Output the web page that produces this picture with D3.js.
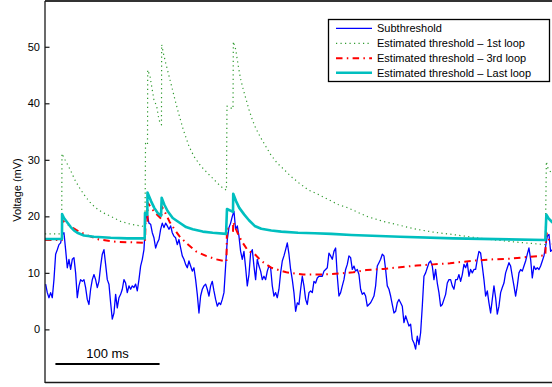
<!DOCTYPE html>
<html><head><meta charset="utf-8">
<script src="https://cdn.jsdelivr.net/npm/d3@7"></script>
<style>
body{margin:0;background:#fff}
svg{display:block;background:#fff}
text{font-family:"Liberation Sans",Arial,Helvetica,sans-serif;fill:#000}
</style>
</head><body>
<svg id="c" width="552" height="387"></svg>
<script>
// ---- data (time in ms, voltage in mV) ----
const sampleStart = 0.6;   // ms, time of first subthreshold sample
const sampleStep = 1.6;    // ms between samples
const subthreshold = [
  8.0, 6.5, 5.6, 6.5, 5.6, 8.8, 13.3, 14.1, 15.0, 15.3,
  16.8, 17.1, 14.1, 10.9, 12.4, 10.6, 12.4, 12.7, 10.0, 5.6,
  7.7, 8.8, 8.5, 8.8, 7.4, 5.3, 4.4, 7.1, 8.8, 9.7,
  8.8, 7.4, 8.5, 11.2, 13.3, 14.1, 11.5, 8.8, 8.0, 4.7,
  1.8, 2.9, 6.2, 3.8, 5.6, 6.2, 7.1, 8.8, 8.2, 6.5,
  7.7, 7.1, 7.7, 7.4, 8.0, 6.8, 8.8, 11.2, 12.4, 14.1,
  19.4, 20.3, 18.8, 18.6, 17.1, 16.2, 14.4, 15.3, 15.9, 17.7,
  18.8, 18.0, 18.8, 18.3, 17.7, 18.3, 17.1, 16.5, 16.2, 15.0,
  15.9, 14.4, 13.0, 12.4, 11.5, 10.9, 12.1, 11.2, 10.3, 10.9,
  8.8, 6.2, 2.9, 5.9, 7.1, 7.7, 8.0, 7.1, 5.9, 7.7,
  8.5, 6.8, 5.3, 4.1, 4.7, 4.4, 5.3, 6.5, 11.2, 15.9,
  18.0, 18.8, 20.0, 20.9, 17.7, 18.3, 16.5, 13.8, 12.4, 13.8,
  10.9,
  7.7, 9.7, 13.5, 14.1, 11.2, 8.8, 12.4, 11.2, 10.3, 8.8,
  9.4, 8.8, 10.3, 11.2, 10.9, 7.7, 5.9, 6.5, 5.6, 7.1,
  10.0, 12.1, 13.0, 14.1, 15.3, 13.3, 10.6, 8.8, 6.5, 3.2,
  4.7, 4.4, 7.1, 9.4, 7.7, 5.3, 4.4, 6.5, 6.8, 6.5,
  8.5, 8.2, 9.1, 9.4, 9.4, 9.4, 10.3, 10.6, 10.9, 13.5,
  13.0, 12.4, 13.8, 14.4, 9.4, 5.9, 6.5, 7.7, 8.8, 10.6,
  11.5, 13.0,
  12.7, 10.6, 11.2, 10.3, 10.6, 9.7, 7.1, 6.2, 6.5, 5.9,
  4.1, 4.4, 4.7, 5.3, 5.9, 7.7, 11.2, 11.8, 12.4, 13.3,
  13.0, 10.6, 7.7, 7.1, 5.9, 4.4, 2.9, 3.2, 4.7, 5.3,
  4.7, 4.1, 1.2, 2.4, 1.5, 0.6, 0.9, -1.8, -2.4, -3.5,
  -1.2, -2.7, -0.6, 4.1, 9.4, 10.0, 10.9, 11.8, 12.1, 11.2,
  8.8, 10.6, 8.2, 6.5, 4.1, 4.4, 5.3, 6.2, 8.2, 8.8,
  8.8,
  7.7, 7.1, 8.8, 8.8, 9.7, 8.5, 9.7, 11.5, 10.9, 11.8,
  9.4, 10.6, 10.0, 10.6, 10.6, 12.4, 13.8, 13.5, 11.2, 8.8,
  5.9, 6.8, 4.7, 2.9, 5.3, 7.7, 5.6, 2.7, 4.1, 6.5,
  7.4, 8.2, 10.0, 10.9, 11.8, 11.2, 9.4, 7.7, 5.9, 7.7,
  10.0, 10.6, 10.3, 11.2, 12.1, 13.3, 14.4, 12.4, 9.1, 11.2,
  10.6, 10.9, 10.6, 11.2, 12.1, 13.0, 14.7, 16.5, 16.8, 13.8,
  14.1
];

const firstLoopTime = [0, 16.0, 16.3, 19.2, 22.4, 25.6, 28.8, 33.6, 38.4, 43.2, 48.0, 55.0, 63.1, 72.7, 82.3, 91.9, 96.0,
  96.5, 98.4, 98.6, 100.8, 102.4, 104.6, 107.2, 108.8, 110.4, 111.8,
  112.0, 113.6, 115.9, 118.4, 121.6, 124.8, 128.6, 132.8, 138.2, 143.0, 149.5, 155.8, 162.2, 168.7, 174.2,
  174.7, 180.5, 180.8, 183.1, 184.6, 186.2, 187.9, 190.4, 192.7, 195.8, 199.0, 202.3, 207.1, 211.9, 216.7,
  223.0, 229.4, 235.9, 243.8, 252.5, 262.1, 271.7, 281.3, 290.9, 308.8, 324.8, 340.8, 356.8, 372.8, 390.7,
  422.7, 454.8, 480.3, 481.3, 482.9, 486.0, 492.0];
const firstLoopValue = [16.9, 16.9, 31.1, 30.0, 28.9, 27.7, 26.4, 24.9, 23.6, 22.5, 21.6, 20.7, 20.0, 19.1, 18.6, 18.3, 18.2,
  32.9, 32.6, 45.9, 44.8, 43.0, 40.6, 39.5, 37.7, 36.5, 36.2,
  50.4, 48.9, 47.1, 45.3, 43.0, 40.6, 38.0, 35.3, 32.4, 30.6, 28.9, 27.7, 26.5, 25.3, 24.6,
  39.5, 39.0, 50.9, 49.5, 47.7, 45.9, 44.2, 42.4, 40.9, 38.9, 37.1, 35.6, 33.9, 32.4, 30.9,
  29.4, 28.3, 27.1, 25.9, 24.7, 23.9, 23.0, 22.1, 21.5, 20.0, 19.1, 18.4, 17.7, 17.2, 16.8,
  16.0, 15.4, 15.0, 29.7, 28.5, 27.7, 26.2];

const thirdLoopTime = [0, 16.3, 16.4, 20.2, 25.0, 29.8, 38.4, 51.8, 68.2, 83.5, 96.0,
  96.5, 98.4, 98.6, 102.7, 107.0, 111.8, 112.0, 114.5, 119.4, 124.2, 129.0, 135.4, 145.0, 154.6, 164.2, 172.2, 174.2,
  174.7, 180.5, 180.7, 183.4, 186.5, 189.9, 194.9, 201.4, 207.7, 217.3, 231.7, 247.7, 266.9, 282.9, 296.0,
  308.8, 324.8, 340.8, 356.8, 372.8, 388.8, 398.4, 414.4, 430.4, 446.3, 462.4, 475.2, 480.3, 481.3, 484.0, 488.0];
const thirdLoopValue = [15.8, 15.8, 19.3, 18.8, 18.2, 17.6, 16.8, 15.9, 15.5, 15.4, 15.3,
  19.0, 18.8, 22.4, 21.3, 20.4, 19.5, 21.8, 21.0, 19.1, 17.7, 16.5, 15.3, 13.8, 13.0, 12.4, 12.1, 12.0,
  17.9, 17.4, 19.0, 17.7, 16.4, 15.3, 13.9, 13.3, 12.1, 10.9, 10.1, 9.7, 9.7, 9.9, 10.1,
  10.5, 10.7, 11.0, 11.3, 11.5, 11.7, 11.9, 12.2, 12.4, 12.5, 12.8, 13.0, 13.1, 17.1, 15.8, 15.0];

const lastLoopTime = [0, 16.3, 16.4, 18.2, 21.4, 24.7, 27.8, 31.0, 37.4, 47.0, 63.1, 79.0, 95.7,
  96.0, 98.2, 98.4, 101.8, 104.9, 108.2, 111.4, 112.0, 114.5, 117.8, 122.6, 128.9, 135.4, 141.8, 151.4, 161.0, 173.8,
  174.7, 180.5, 180.7, 183.4, 186.5, 191.3, 195.8, 201.3, 207.6, 217.2, 226.8, 242.9, 258.9, 274.9, 294.0,
  340.8, 392.0, 480.3, 481.3, 483.6, 486.7, 492.0];
const lastLoopValue = [16.0, 16.0, 20.4, 19.7, 18.9, 18.1, 17.5, 17.1, 16.6, 16.4, 16.2, 16.1, 16.1,
  20.6, 20.3, 24.2, 22.7, 21.5, 20.6, 20.1, 23.3, 22.1, 20.9, 19.7, 18.9, 18.1, 17.7, 17.3, 17.1, 16.9,
  21.3, 20.8, 24.0, 22.7, 21.5, 20.3, 19.3, 18.3, 17.8, 17.5, 17.3, 17.1, 17.0, 16.9, 16.7,
  16.4, 16.1, 15.8, 20.3, 19.6, 19.0, 18.2];

const yTicks = [0, 10, 20, 30, 40, 50];
const legendLabels = ["Subthreshold", "Estimated threshold \u2013 1st loop",
  "Estimated threshold \u2013 3rd loop", "Estimated threshold \u2013 Last loop"];
const yLabel = "Voltage (mV)";
const scaleBarMs = [10, 110];
const scaleBarLabel = "100 ms";

// ---- drawing ----
const W = 552, H = 387;
const mLeft = 45, mTop = 1, mBottom = 382.5;
const svg = d3.select("#c");
const x = d3.scaleLinear().domain([0, 500]).range([mLeft, mLeft + 500 * (5 / 3) / 1.6]);
const y = d3.scaleLinear().domain([-9.4, 58.1]).range([mBottom, mTop]);

svg.append("defs").append("clipPath").attr("id", "clip")
  .append("rect").attr("x", mLeft).attr("y", mTop).attr("width", 600).attr("height", mBottom - mTop);

const styles = [
  {color: "#0000ff", width: 1.3, dash: null},
  {color: "#2f9a2f", width: 1.2, dash: "1.2,3.3"},
  {color: "#ff0000", width: 2, dash: "6.5,4.3,1.5,4.3"},
  {color: "#00bfbf", width: 2.6, dash: null}
];

const series = [
  subthreshold.map((v, i) => [sampleStart + i * sampleStep, v]),
  firstLoopTime.map((t, i) => [t, firstLoopValue[i]]),
  thirdLoopTime.map((t, i) => [t, thirdLoopValue[i]]),
  lastLoopTime.map((t, i) => [t, lastLoopValue[i]])
];

const line = d3.line().x(d => x(d[0])).y(d => y(d[1]));
const plot = svg.append("g").attr("clip-path", "url(#clip)");
series.forEach((s, i) => {
  plot.append("path").datum(s).attr("d", line)
    .attr("fill", "none").attr("stroke", styles[i].color)
    .attr("stroke-width", styles[i].width)
    .attr("stroke-linejoin", "round")
    .attr("stroke-dasharray", styles[i].dash);
});

// axes box (top, bottom, left)
const axisColor = "#1a1a1a";
svg.append("line").attr("x1", mLeft).attr("x2", W + 10).attr("y1", mTop).attr("y2", mTop)
  .attr("stroke", "#333").attr("stroke-width", 2);
svg.append("line").attr("x1", mLeft).attr("x2", W + 10).attr("y1", mBottom).attr("y2", mBottom)
  .attr("stroke", axisColor).attr("stroke-width", 1.3);

const yAxis = svg.append("g").attr("transform", `translate(${mLeft},0)`)
  .call(d3.axisLeft(y).tickValues(yTicks).tickSizeInner(-4.5).tickSizeOuter(0).tickPadding(5));
yAxis.select(".domain").remove();
yAxis.selectAll(".tick line").attr("stroke", axisColor).attr("stroke-width", 1.2);
yAxis.selectAll(".tick text").attr("font-size", 11).attr("font-family", '"Liberation Sans",Arial,sans-serif').attr("fill", "#111");
svg.append("line").attr("x1", mLeft).attr("x2", mLeft).attr("y1", mTop).attr("y2", mBottom + 0.6)
  .attr("stroke", axisColor).attr("stroke-width", 1.3);

svg.append("text").attr("transform", `translate(21,190) rotate(-90)`)
  .attr("text-anchor", "middle").attr("font-size", 11).text(yLabel);

// scale bar
svg.append("line").attr("x1", x(scaleBarMs[0])).attr("x2", x(scaleBarMs[1]))
  .attr("y1", 364).attr("y2", 364).attr("stroke", "#000").attr("stroke-width", 2);
svg.append("text").attr("x", (x(scaleBarMs[0]) + x(scaleBarMs[1])) / 2).attr("y", 358)
  .attr("text-anchor", "middle").attr("font-size", 13).text(scaleBarLabel);

// legend
const lg = svg.append("g");
lg.append("rect").attr("x", 328.5).attr("y", 19.5).attr("width", 221).attr("height", 62)
  .attr("fill", "#fff").attr("stroke", "#000").attr("stroke-width", 1.3);
const ly = [28.3, 43.3, 58.3, 72.7];
legendLabels.forEach((lab, i) => {
  lg.append("line").attr("x1", 336).attr("x2", 372).attr("y1", ly[i]).attr("y2", ly[i])
    .attr("stroke", styles[i].color).attr("stroke-width", styles[i].width)
    .attr("stroke-dasharray", styles[i].dash);
  lg.append("text").attr("x", 377).attr("y", ly[i]).attr("dy", "0.35em")
    .attr("font-size", 11).text(lab);
});
</script>
</body></html>
